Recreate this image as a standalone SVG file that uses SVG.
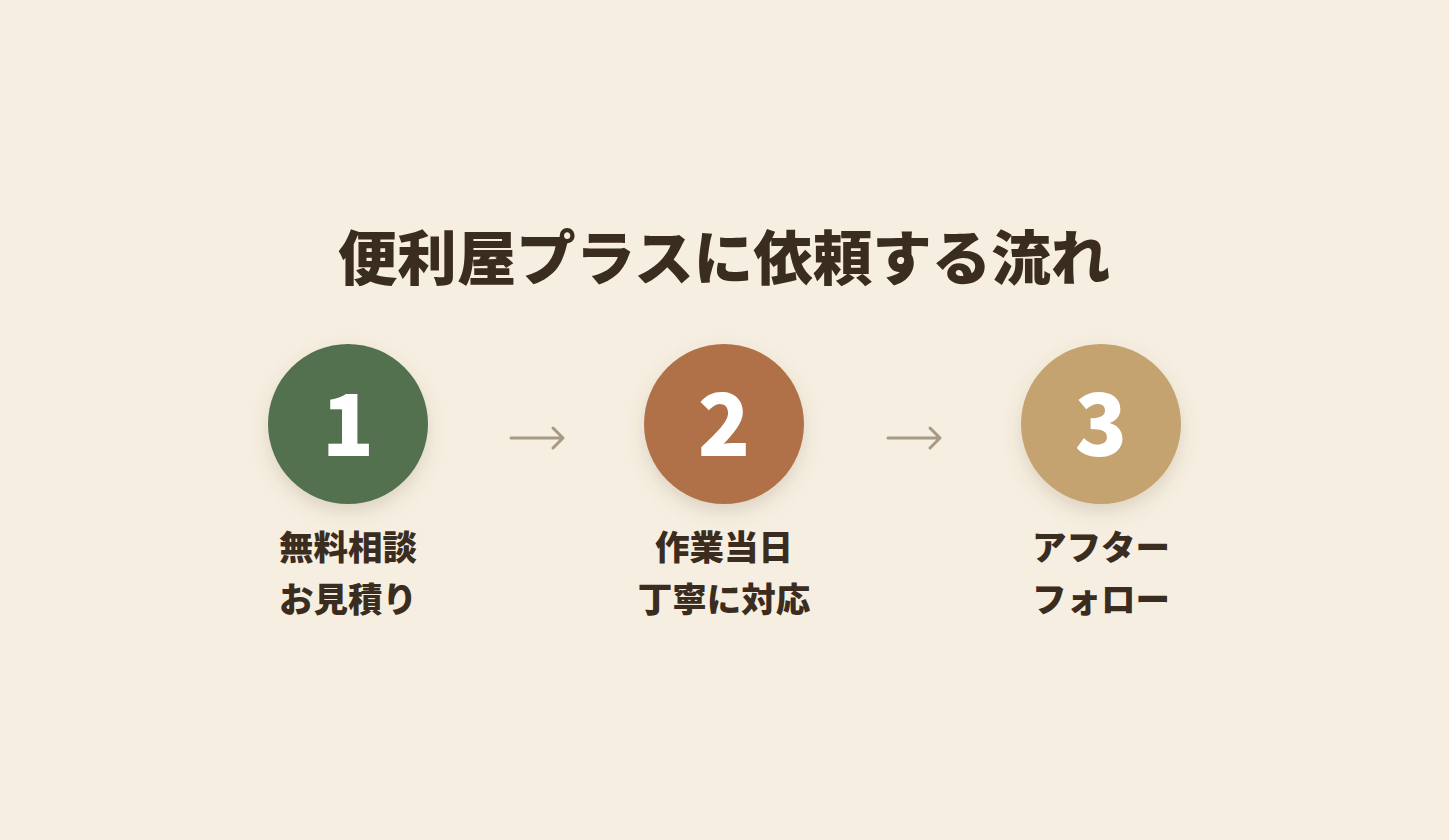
<svg xmlns="http://www.w3.org/2000/svg" width="1449" height="840" viewBox="0 0 1449 840">
<defs>
<style>
.title{font-family:"Noto Sans CJK JP","Noto Sans",sans-serif;font-weight:900;font-size:59.5px;fill:#3a2d20;text-anchor:middle}
.num{font-family:"Noto Sans CJK JP","Noto Sans",sans-serif;font-weight:900;font-size:86px;fill:#ffffff;text-anchor:middle}
.lbl{font-family:"Noto Sans CJK JP","Noto Sans",sans-serif;font-weight:900;font-size:34.5px;fill:#3a2d20;text-anchor:middle}
.arr{fill:none;stroke:#a89a82;stroke-width:3;stroke-linecap:round;stroke-linejoin:round}
</style>
<filter id="sh" x="-30%" y="-30%" width="160%" height="170%">
<feDropShadow dx="0" dy="8" stdDeviation="9" flood-color="#6b5535" flood-opacity="0.18"/>
</filter>
</defs>
<rect width="1449" height="840" fill="#f6efe1"/>
<text class="title" x="724" y="280">便利屋プラスに依頼する流れ</text>
<g id="connectors">
<path class="arr" d="M511 438 H563 M553 428 L563 438 L553 448"/>
<path class="arr" d="M888 438 H940 M930 428 L940 438 L930 448"/>
</g>
<g id="step1">
<circle cx="348" cy="424" r="80" fill="#527150" filter="url(#sh)"/>
<text class="num" x="348" y="456">1</text>
<text class="lbl" x="348" y="560">無料相談</text>
<text class="lbl" x="348" y="612">お見積り</text>
</g>
<g id="step2">
<circle cx="724" cy="424" r="80" fill="#b07148" filter="url(#sh)"/>
<text class="num" x="724" y="456">2</text>
<text class="lbl" x="724" y="560">作業当日</text>
<text class="lbl" x="724" y="612">丁寧に対応</text>
</g>
<g id="step3">
<circle cx="1101" cy="424" r="80" fill="#c4a36f" filter="url(#sh)"/>
<text class="num" x="1101" y="456">3</text>
<text class="lbl" x="1101" y="560">アフター</text>
<text class="lbl" x="1101" y="612">フォロー</text>
</g>
</svg>
